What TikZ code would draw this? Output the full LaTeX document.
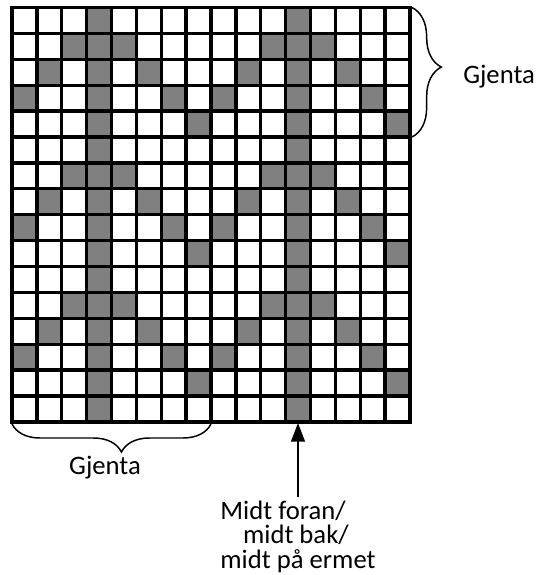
\documentclass[tikz,border=0pt]{standalone}
\usepackage{fontspec}
\setmainfont{Carlito}
\usetikzlibrary{positioning,arrows.meta,decorations.pathreplacing}

\begin{document}
\begin{tikzpicture}
 [x=0.75pt,y=-0.75pt,
  cell/.style={fill=black!50},
  gridline/.style={line width=2.5pt, line cap=rect},
  label node/.style={font=\fontsize{20}{18.4}\selectfont, inner sep=0pt},
  gjenta brace/.style 2 args={decorate, decoration={brace,amplitude=#1,aspect=#2}, line width=1.1pt},
  pointer/.style={-{Triangle[width=10.5pt,length=14pt]}, line width=1.1pt}]

\useasboundingbox (0,0) rectangle (543,575);

\def\cw{24.875}
\def\ch{25.9}

% grey stitches, row by row from the top
\foreach \r/\cols in {0/{3,11},1/{2,3,4,10,11,12},2/{1,3,5,9,11,13},3/{0,3,6,8,11,14},4/{3,7,11,15},
  5/{3,11},6/{2,3,4,10,11,12},7/{1,3,5,9,11,13},8/{0,3,6,8,11,14},9/{3,7,11,15},
  10/{3,11},11/{2,3,4,10,11,12},12/{1,3,5,9,11,13},13/{0,3,6,8,11,14},14/{3,7,11,15},15/{3,11}}
  \foreach \c in \cols
    \fill[cell] ({12+\c*\cw},{7.5+\r*\ch}) rectangle ++(\cw,\ch);

% the 16x16 grid
\foreach \i in {0,...,16} {
  \draw[gridline] ({12+\i*\cw},7.5) -- ({12+\i*\cw},{7.5+16*\ch});
  \draw[gridline] (12,{7.5+\i*\ch}) -- ({12+16*\cw},{7.5+\i*\ch});
}

\coordinate (rtop) at (412,7.5);
\coordinate (rbot) at (412,137);
\coordinate (bleft) at (12,424);
\coordinate (bright) at (211,424);
\coordinate (tip) at (298,423);

\draw[gjenta brace={22pt}{0.46}] (rtop) -- (rbot);
\draw[gjenta brace={21pt}{0.45}] (bright) -- (bleft);

\node[label node, anchor=west] (gjenta1) at (463,77) {Gjenta};
\node[label node, anchor=north] (gjenta2) at (105,456) {Gjenta};

\node[label node, align=left] (mid) [below=58pt of tip] {Midt foran/\\\hspace*{17pt}midt bak/\\midt på ermet};

\draw[pointer, shorten <=2.5pt] (mid.north) -- (tip);

\end{tikzpicture}
\end{document}
